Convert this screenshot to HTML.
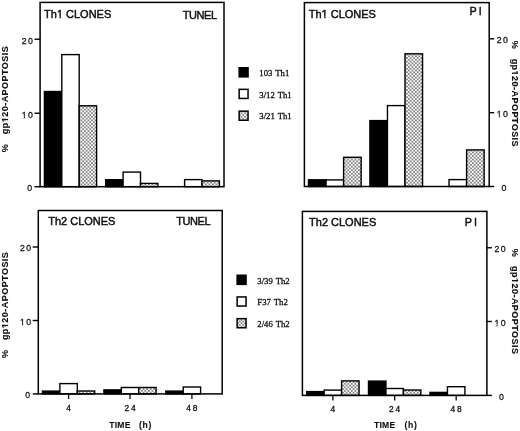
<!DOCTYPE html><html><head><meta charset="utf-8"><style>
html,body{margin:0;padding:0;background:#fff;width:520px;height:431px;overflow:hidden}
svg{display:block;filter:grayscale(1)}
.t{font-family:"Liberation Sans",sans-serif;fill:#111;stroke:#111;stroke-width:0.45px}
.b{stroke-width:0.1px}.k{stroke-width:0.3px}
.s{font-family:"Liberation Serif",serif;fill:#111;stroke:#111;stroke-width:0.3px}
</style></head><body>
<svg width="520" height="431" viewBox="0 0 520 431">
<defs>
<pattern id="dots" width="3.56" height="3.56" patternUnits="userSpaceOnUse" x="0.3" y="0.2"><rect width="3.56" height="3.56" fill="#fff"/><rect x="0.14" y="0.14" width="1.5" height="1.5" fill="#555"/><rect x="1.92" y="1.92" width="1.5" height="1.5" fill="#555"/></pattern>
</defs>
<rect width="520" height="431" fill="#fff"/>
<rect x="44.4" y="91.5" width="17.4" height="95.2" fill="#000" stroke="#000" stroke-width="1.4"/>
<rect x="61.8" y="54.6" width="17.4" height="132.1" fill="#fff" stroke="#000" stroke-width="1.4"/>
<rect x="79.2" y="105.8" width="17.4" height="80.9" fill="url(#dots)" stroke="#000" stroke-width="1.4"/>
<rect x="105.7" y="179.7" width="17.4" height="7" fill="#000" stroke="#000" stroke-width="1.4"/>
<rect x="123.1" y="172.1" width="17.4" height="14.6" fill="#fff" stroke="#000" stroke-width="1.4"/>
<rect x="140.5" y="183.4" width="17.4" height="3.3" fill="url(#dots)" stroke="#000" stroke-width="1.4"/>
<rect x="184.6" y="179.6" width="17.4" height="7.1" fill="#fff" stroke="#000" stroke-width="1.4"/>
<rect x="202" y="180.9" width="17.4" height="5.8" fill="url(#dots)" stroke="#000" stroke-width="1.4"/>
<rect x="40.1" y="2.4" width="183.9" height="184.3" fill="none" stroke="#000" stroke-width="1.5"/>
<line x1="34.5" y1="39.2" x2="40.1" y2="39.2" stroke="#000" stroke-width="1.4"/>
<g transform="translate(21.78,43.6) scale(0.92,1)"><text class="t k" font-size="9.5" letter-spacing="1.41">20</text></g>
<line x1="34.5" y1="113.25" x2="40.1" y2="113.25" stroke="#000" stroke-width="1.4"/>
<g transform="translate(21.78,117.65) scale(0.92,1)"><text class="t k" font-size="9.5" letter-spacing="1.41">10</text><rect x="-0.19" y="-1.74" width="2.4" height="2.49" fill="#fff"/><rect x="3.39" y="-1.74" width="2.31" height="2.49" fill="#fff"/></g>
<line x1="34.5" y1="186.7" x2="40.1" y2="186.7" stroke="#000" stroke-width="1.4"/>
<g transform="translate(27.14,191.1) scale(0.92,1)"><text class="t k" font-size="9.5" letter-spacing="1.41">0</text></g>
<g transform="translate(44.1,18.4) scale(1,1.07)"><text class="t" font-size="11">Th1 CLONES</text><rect x="12.62" y="-1.93" width="2.74" height="2.75" fill="#fff"/><rect x="16.81" y="-1.93" width="2.63" height="2.75" fill="#fff"/></g>
<text class="t" x="216.65" y="19" font-size="11" text-anchor="end" letter-spacing="-0.45">TUNEL</text>
<rect x="308.5" y="179.8" width="17.55" height="6.7" fill="#000" stroke="#000" stroke-width="1.4"/>
<rect x="326.05" y="179.9" width="17.55" height="6.6" fill="#fff" stroke="#000" stroke-width="1.4"/>
<rect x="343.6" y="157.3" width="17.55" height="29.2" fill="url(#dots)" stroke="#000" stroke-width="1.4"/>
<rect x="369.9" y="120.6" width="17.55" height="65.9" fill="#000" stroke="#000" stroke-width="1.4"/>
<rect x="387.45" y="105.6" width="17.55" height="80.9" fill="#fff" stroke="#000" stroke-width="1.4"/>
<rect x="405" y="53.8" width="17.55" height="132.7" fill="url(#dots)" stroke="#000" stroke-width="1.4"/>
<rect x="449.05" y="179.6" width="17.55" height="6.9" fill="#fff" stroke="#000" stroke-width="1.4"/>
<rect x="466.6" y="149.9" width="17.55" height="36.6" fill="url(#dots)" stroke="#000" stroke-width="1.4"/>
<rect x="304.4" y="2.6" width="184.8" height="183.9" fill="none" stroke="#000" stroke-width="1.5"/>
<line x1="489.2" y1="38.8" x2="494.2" y2="38.8" stroke="#000" stroke-width="1.4"/>
<g transform="translate(496.8,43.2) scale(0.92,1)"><text class="t k" font-size="9.5" letter-spacing="1.41">20</text></g>
<line x1="489.2" y1="112.7" x2="494.2" y2="112.7" stroke="#000" stroke-width="1.4"/>
<g transform="translate(496.8,117.1) scale(0.92,1)"><text class="t k" font-size="9.5" letter-spacing="1.41">10</text><rect x="-0.19" y="-1.74" width="2.4" height="2.49" fill="#fff"/><rect x="3.39" y="-1.74" width="2.31" height="2.49" fill="#fff"/></g>
<line x1="489.2" y1="186.5" x2="494.2" y2="186.5" stroke="#000" stroke-width="1.4"/>
<g transform="translate(501.4,190.9) scale(0.92,1)"><text class="t k" font-size="9.5" letter-spacing="1.41">0</text></g>
<g transform="translate(308.8,18.1) scale(1,1.07)"><text class="t" font-size="11">Th1 CLONES</text><rect x="12.62" y="-1.93" width="2.74" height="2.75" fill="#fff"/><rect x="16.81" y="-1.93" width="2.63" height="2.75" fill="#fff"/></g>
<text class="t" x="483.7" y="14.8" font-size="10.8" text-anchor="end" letter-spacing="2.0">PI</text>
<rect x="42.5" y="391.1" width="17.4" height="2.8" fill="#000" stroke="#000" stroke-width="1.4"/>
<rect x="59.9" y="383.6" width="17.4" height="10.3" fill="#fff" stroke="#000" stroke-width="1.4"/>
<rect x="77.3" y="391" width="17.4" height="2.9" fill="url(#dots)" stroke="#000" stroke-width="1.4"/>
<rect x="103.9" y="389.9" width="17.4" height="4" fill="#000" stroke="#000" stroke-width="1.4"/>
<rect x="121.3" y="387.5" width="17.4" height="6.4" fill="#fff" stroke="#000" stroke-width="1.4"/>
<rect x="138.7" y="387.5" width="17.4" height="6.4" fill="url(#dots)" stroke="#000" stroke-width="1.4"/>
<rect x="165.8" y="391.1" width="17.4" height="2.8" fill="#000" stroke="#000" stroke-width="1.4"/>
<rect x="183.2" y="387" width="17.4" height="6.9" fill="#fff" stroke="#000" stroke-width="1.4"/>
<rect x="38.3" y="210.5" width="183.9" height="183.4" fill="none" stroke="#000" stroke-width="1.5"/>
<line x1="32.7" y1="247" x2="38.3" y2="247" stroke="#000" stroke-width="1.4"/>
<g transform="translate(19.98,251.4) scale(0.92,1)"><text class="t k" font-size="9.5" letter-spacing="1.41">20</text></g>
<line x1="32.7" y1="320.5" x2="38.3" y2="320.5" stroke="#000" stroke-width="1.4"/>
<g transform="translate(19.98,324.9) scale(0.92,1)"><text class="t k" font-size="9.5" letter-spacing="1.41">10</text><rect x="-0.19" y="-1.74" width="2.4" height="2.49" fill="#fff"/><rect x="3.39" y="-1.74" width="2.31" height="2.49" fill="#fff"/></g>
<line x1="32.7" y1="393.9" x2="38.3" y2="393.9" stroke="#000" stroke-width="1.4"/>
<g transform="translate(25.34,398.3) scale(0.92,1)"><text class="t k" font-size="9.5" letter-spacing="1.41">0</text></g>
<line x1="68.6" y1="393.9" x2="68.6" y2="398.9" stroke="#000" stroke-width="1.3"/>
<text class="t k" x="69.5" y="410.9" font-size="8.4" text-anchor="middle" letter-spacing="1.8">4</text>
<line x1="130" y1="393.9" x2="130" y2="398.9" stroke="#000" stroke-width="1.3"/>
<text class="t k" x="130.9" y="410.9" font-size="8.4" text-anchor="middle" letter-spacing="1.8">24</text>
<line x1="191.9" y1="393.9" x2="191.9" y2="398.9" stroke="#000" stroke-width="1.3"/>
<text class="t k" x="192.8" y="410.9" font-size="8.4" text-anchor="middle" letter-spacing="1.8">48</text>
<g transform="translate(48.3,224.6) scale(1,1.07)"><text class="t" font-size="11">Th2 CLONES</text></g>
<text class="t" x="210.15" y="225.4" font-size="11" text-anchor="end" letter-spacing="-0.45">TUNEL</text>
<rect x="306.7" y="391.6" width="17.45" height="3.8" fill="#000" stroke="#000" stroke-width="1.4"/>
<rect x="324.15" y="390.1" width="17.45" height="5.3" fill="#fff" stroke="#000" stroke-width="1.4"/>
<rect x="341.6" y="380.9" width="17.45" height="14.5" fill="url(#dots)" stroke="#000" stroke-width="1.4"/>
<rect x="368.5" y="381.1" width="17.45" height="14.3" fill="#000" stroke="#000" stroke-width="1.4"/>
<rect x="385.95" y="388.5" width="17.45" height="6.9" fill="#fff" stroke="#000" stroke-width="1.4"/>
<rect x="403.4" y="390" width="17.45" height="5.4" fill="url(#dots)" stroke="#000" stroke-width="1.4"/>
<rect x="430" y="392.4" width="17.45" height="3" fill="#000" stroke="#000" stroke-width="1.4"/>
<rect x="447.45" y="386.7" width="17.45" height="8.7" fill="#fff" stroke="#000" stroke-width="1.4"/>
<rect x="302.4" y="211.4" width="184.5" height="184" fill="none" stroke="#000" stroke-width="1.5"/>
<line x1="486.9" y1="247.75" x2="491.9" y2="247.75" stroke="#000" stroke-width="1.4"/>
<g transform="translate(494.5,252.15) scale(0.92,1)"><text class="t k" font-size="9.5" letter-spacing="1.41">20</text></g>
<line x1="486.9" y1="321.5" x2="491.9" y2="321.5" stroke="#000" stroke-width="1.4"/>
<g transform="translate(494.5,325.9) scale(0.92,1)"><text class="t k" font-size="9.5" letter-spacing="1.41">10</text><rect x="-0.19" y="-1.74" width="2.4" height="2.49" fill="#fff"/><rect x="3.39" y="-1.74" width="2.31" height="2.49" fill="#fff"/></g>
<line x1="486.9" y1="395.4" x2="491.9" y2="395.4" stroke="#000" stroke-width="1.4"/>
<g transform="translate(499.1,399.8) scale(0.92,1)"><text class="t k" font-size="9.5" letter-spacing="1.41">0</text></g>
<line x1="332.88" y1="395.4" x2="332.88" y2="400.4" stroke="#000" stroke-width="1.3"/>
<text class="t k" x="333.77" y="412.4" font-size="8.4" text-anchor="middle" letter-spacing="1.8">4</text>
<line x1="394.68" y1="395.4" x2="394.68" y2="400.4" stroke="#000" stroke-width="1.3"/>
<text class="t k" x="395.57" y="412.4" font-size="8.4" text-anchor="middle" letter-spacing="1.8">24</text>
<line x1="456.18" y1="395.4" x2="456.18" y2="400.4" stroke="#000" stroke-width="1.3"/>
<text class="t k" x="457.07" y="412.4" font-size="8.4" text-anchor="middle" letter-spacing="1.8">48</text>
<g transform="translate(309.1,226.4) scale(1,1.07)"><text class="t" font-size="11">Th2 CLONES</text></g>
<text class="t" x="479" y="226.2" font-size="10.8" text-anchor="end" letter-spacing="2.0">PI</text>
<g transform="translate(7.5,90) rotate(-90)"><text class="t b" font-size="9" font-weight="bold" text-anchor="middle" letter-spacing="0.47">gp120-APOPTOSIS</text><rect x="-32.45" y="-1.9" width="2.2" height="2.5" fill="#fff"/><rect x="-28.86" y="-1.9" width="1.99" height="2.5" fill="#fff"/></g>
<text class="t b" transform="translate(7.5,148.3) rotate(-90)" font-size="9" font-weight="bold" text-anchor="middle">%</text>
<g transform="translate(7.5,295.9) rotate(-90)"><text class="t b" font-size="9" font-weight="bold" text-anchor="middle" letter-spacing="0.47">gp120-APOPTOSIS</text><rect x="-32.45" y="-1.9" width="2.2" height="2.5" fill="#fff"/><rect x="-28.86" y="-1.9" width="1.99" height="2.5" fill="#fff"/></g>
<text class="t b" transform="translate(7.5,354) rotate(-90)" font-size="9" font-weight="bold" text-anchor="middle">%</text>
<g transform="translate(511.7,102.85) rotate(90)"><text class="t b" font-size="9" font-weight="bold" text-anchor="middle" letter-spacing="0.47">gp120-APOPTOSIS</text><rect x="-32.45" y="-1.9" width="2.2" height="2.5" fill="#fff"/><rect x="-28.86" y="-1.9" width="1.99" height="2.5" fill="#fff"/></g>
<text class="t b" transform="translate(511.7,44.8) rotate(90)" font-size="9" font-weight="bold" text-anchor="middle">%</text>
<g transform="translate(511.7,310.25) rotate(90)"><text class="t b" font-size="9" font-weight="bold" text-anchor="middle" letter-spacing="0.47">gp120-APOPTOSIS</text><rect x="-32.45" y="-1.9" width="2.2" height="2.5" fill="#fff"/><rect x="-28.86" y="-1.9" width="1.99" height="2.5" fill="#fff"/></g>
<text class="t b" transform="translate(511.7,252.8) rotate(90)" font-size="9" font-weight="bold" text-anchor="middle">%</text>
<text class="t b" x="109.3" y="427.6" font-size="8.6" font-weight="bold" letter-spacing="0.2">TIME</text>
<text class="t b" x="138.9" y="427.6" font-size="8.6" font-weight="bold" letter-spacing="0.8">(h)</text>
<text class="t b" x="374" y="427.6" font-size="8.6" font-weight="bold" letter-spacing="0.2">TIME</text>
<text class="t b" x="404.4" y="427.6" font-size="8.6" font-weight="bold" letter-spacing="0.8">(h)</text>
<rect x="239.15" y="67.75" width="8.9" height="9.1" fill="#000" stroke="#000" stroke-width="1.5"/>
<text class="s" x="259.3" y="75.9" font-size="8.7" word-spacing="0.9">103 Th1</text>
<rect x="239.15" y="89.35" width="8.9" height="9.1" fill="#fff" stroke="#000" stroke-width="1.5"/>
<text class="s" x="259.3" y="98.1" font-size="8.7" word-spacing="0.9">3/12 Th1</text>
<rect x="239.15" y="111.15" width="8.9" height="9.1" fill="url(#dots)" stroke="#000" stroke-width="1.5"/>
<text class="s" x="259.3" y="119.2" font-size="8.7" word-spacing="0.9">3/21 Th1</text>
<rect x="237.15" y="275.25" width="8.9" height="9.1" fill="#000" stroke="#000" stroke-width="1.5"/>
<text class="s" x="257.3" y="284.1" font-size="8.7" word-spacing="0.9">3/39 Th2</text>
<rect x="237.15" y="296.95" width="8.9" height="9.1" fill="#fff" stroke="#000" stroke-width="1.5"/>
<text class="s" x="257.3" y="305" font-size="8.7" word-spacing="0.9">F37 Th2</text>
<rect x="237.15" y="318.65" width="8.9" height="9.1" fill="url(#dots)" stroke="#000" stroke-width="1.5"/>
<text class="s" x="257.3" y="327.2" font-size="8.7" word-spacing="0.9">2/46 Th2</text>
</svg></body></html>
